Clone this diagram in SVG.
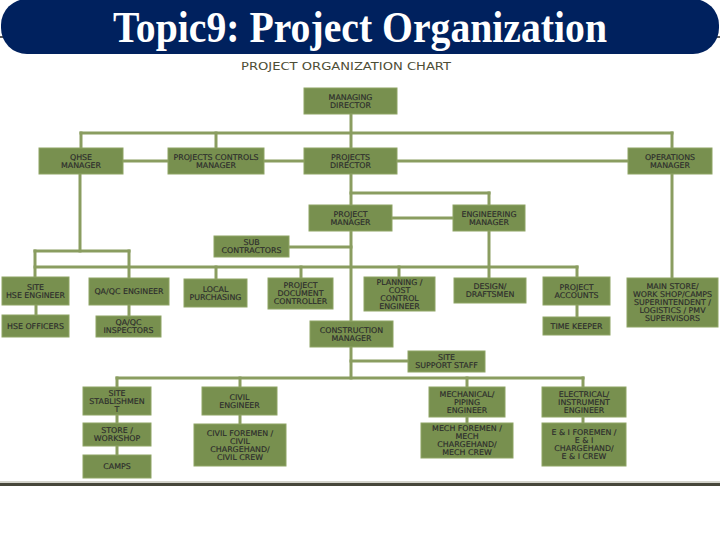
<svg xmlns="http://www.w3.org/2000/svg" width="720" height="540" viewBox="0 0 720 540">
<style>
.b{fill:#78904f;stroke:#8ea465;stroke-width:1}
.t{font-family:"DejaVu Sans",Verdana,sans-serif;font-size:7.9px;fill:#2c2c2c;stroke:#2c2c2c;stroke-width:0.15;text-anchor:middle}
.c line{stroke:#8a9d60;stroke-width:3;stroke-linecap:square}
</style>
<rect width="720" height="540" fill="#ffffff"/>
<g id="header">
<line x1="0" y1="37" x2="720" y2="37" stroke="#5a5a5a" stroke-width="2"/>
<rect x="1" y="-1" width="718" height="55" rx="26" fill="#00215e"/>
<text x="360" y="42" font-family="'Liberation Serif','Times New Roman',serif" font-weight="bold" font-size="45" fill="#ffffff" text-anchor="middle" textLength="494" lengthAdjust="spacingAndGlyphs">Topic9: Project Organization</text>
</g>
<text id="chart-title" x="346" y="70" font-family="'DejaVu Sans',Verdana,sans-serif" font-size="10.5" fill="#4d4d35" text-anchor="middle" textLength="210" lengthAdjust="spacingAndGlyphs">PROJECT ORGANIZATION CHART</text>
<g id="connectors" class="c">
<line x1="351" y1="114" x2="351" y2="148"/>
<line x1="81" y1="133" x2="672" y2="133"/>
<line x1="81" y1="133" x2="81" y2="148"/>
<line x1="216" y1="133" x2="216" y2="148"/>
<line x1="672" y1="133" x2="672" y2="148"/>
<line x1="123" y1="161" x2="628" y2="161"/>
<line x1="351" y1="174" x2="351" y2="205"/>
<line x1="351" y1="193" x2="489" y2="193"/>
<line x1="489" y1="193" x2="489" y2="205"/>
<line x1="392" y1="218" x2="453" y2="218"/>
<line x1="351" y1="231" x2="351" y2="321"/>
<line x1="289" y1="247" x2="351" y2="247"/>
<line x1="80" y1="174" x2="80" y2="251"/>
<line x1="35" y1="251" x2="129" y2="251"/>
<line x1="35" y1="251" x2="35" y2="277"/>
<line x1="129" y1="251" x2="129" y2="278"/>
<line x1="35" y1="267" x2="577" y2="267"/>
<line x1="216" y1="267" x2="216" y2="279"/>
<line x1="301" y1="267" x2="301" y2="278"/>
<line x1="399" y1="267" x2="399" y2="277"/>
<line x1="577" y1="267" x2="577" y2="277"/>
<line x1="489" y1="231" x2="489" y2="278"/>
<line x1="577" y1="305" x2="577" y2="317"/>
<line x1="36" y1="305" x2="36" y2="315"/>
<line x1="129" y1="305" x2="129" y2="316"/>
<line x1="672" y1="174" x2="672" y2="278"/>
<line x1="351" y1="347" x2="351" y2="378"/>
<line x1="351" y1="361" x2="408" y2="361"/>
<line x1="117" y1="378" x2="583" y2="378"/>
<line x1="117" y1="378" x2="117" y2="387"/>
<line x1="240" y1="378" x2="240" y2="387"/>
<line x1="467" y1="378" x2="467" y2="387"/>
<line x1="583" y1="378" x2="583" y2="387"/>
<line x1="117" y1="415" x2="117" y2="455"/>
<line x1="240" y1="415" x2="240" y2="424"/>
<line x1="467" y1="417" x2="467" y2="423"/>
<line x1="583" y1="417" x2="583" y2="423"/>
</g>
<g id="md"><rect class="b" x="304" y="88" width="93" height="26"/><text class="t"><tspan x="350.5" y="99.7">MANAGING</tspan><tspan x="350.5" y="107.7">DIRECTOR</tspan></text></g>
<g id="qhse"><rect class="b" x="39" y="148" width="84" height="26"/><text class="t"><tspan x="81" y="159.7">QHSE</tspan><tspan x="81" y="167.7">MANAGER</tspan></text></g>
<g id="pcm"><rect class="b" x="168" y="148" width="96" height="26"/><text class="t"><tspan x="216" y="159.7">PROJECTS CONTROLS</tspan><tspan x="216" y="167.7">MANAGER</tspan></text></g>
<g id="pd"><rect class="b" x="304" y="148" width="93" height="26"/><text class="t"><tspan x="350.5" y="159.7">PROJECTS</tspan><tspan x="350.5" y="167.7">DIRECTOR</tspan></text></g>
<g id="om"><rect class="b" x="628" y="148" width="84" height="26"/><text class="t"><tspan x="670" y="159.7">OPERATIONS</tspan><tspan x="670" y="167.7">MANAGER</tspan></text></g>
<g id="pm"><rect class="b" x="309" y="205" width="83" height="26"/><text class="t"><tspan x="350.5" y="216.7">PROJECT</tspan><tspan x="350.5" y="224.7">MANAGER</tspan></text></g>
<g id="em"><rect class="b" x="453" y="205" width="72" height="26"/><text class="t"><tspan x="489" y="216.7">ENGINEERING</tspan><tspan x="489" y="224.7">MANAGER</tspan></text></g>
<g id="sub"><rect class="b" x="214" y="236" width="75" height="21"/><text class="t"><tspan x="251.5" y="245.2">SUB</tspan><tspan x="251.5" y="253.2">CONTRACTORS</tspan></text></g>
<g id="site-hse"><rect class="b" x="2" y="277" width="67" height="28"/><text class="t"><tspan x="35.5" y="289.7">SITE</tspan><tspan x="35.5" y="297.7">HSE ENGINEER</tspan></text></g>
<g id="hse-officers"><rect class="b" x="2" y="315" width="67" height="22"/><text class="t" x="35.5" y="328.7">HSE OFFICERS</text></g>
<g id="qaqc-eng"><rect class="b" x="89" y="278" width="80" height="27"/><text class="t" x="129" y="294.2">QA/QC ENGINEER</text></g>
<g id="qaqc-insp"><rect class="b" x="96" y="316" width="65" height="21"/><text class="t"><tspan x="128.5" y="325.2">QA/QC</tspan><tspan x="128.5" y="333.2">INSPECTORS</tspan></text></g>
<g id="local"><rect class="b" x="184" y="279" width="63" height="28"/><text class="t"><tspan x="215.5" y="291.7">LOCAL</tspan><tspan x="215.5" y="299.7">PURCHASING</tspan></text></g>
<g id="pdc"><rect class="b" x="268" y="278" width="65" height="31"/><text class="t"><tspan x="300.5" y="288.2">PROJECT</tspan><tspan x="300.5" y="296.2">DOCUMENT</tspan><tspan x="300.5" y="304.2">CONTROLLER</tspan></text></g>
<g id="planning"><rect class="b" x="364" y="277" width="71" height="34"/><text class="t"><tspan x="399.5" y="284.7">PLANNING /</tspan><tspan x="399.5" y="292.7">COST</tspan><tspan x="399.5" y="300.7">CONTROL</tspan><tspan x="399.5" y="308.7">ENGINEER</tspan></text></g>
<g id="design"><rect class="b" x="454" y="278" width="72" height="25"/><text class="t"><tspan x="490" y="289.2">DESIGN/</tspan><tspan x="490" y="297.2">DRAFTSMEN</tspan></text></g>
<g id="accounts"><rect class="b" x="543" y="277" width="67" height="28"/><text class="t"><tspan x="576.5" y="289.7">PROJECT</tspan><tspan x="576.5" y="297.7">ACCOUNTS</tspan></text></g>
<g id="time-keeper"><rect class="b" x="543" y="317" width="67" height="18"/><text class="t" x="576.5" y="328.7">TIME KEEPER</text></g>
<g id="main-store"><rect class="b" x="627" y="278" width="91" height="49"/><text class="t"><tspan x="672.5" y="289.2">MAIN STORE/</tspan><tspan x="672.5" y="297.2">WORK SHOP/CAMPS</tspan><tspan x="672.5" y="305.2">SUPERINTENDENT /</tspan><tspan x="672.5" y="313.2">LOGISTICS / PMV</tspan><tspan x="672.5" y="321.2">SUPERVISORS</tspan></text></g>
<g id="cm"><rect class="b" x="310" y="321" width="83" height="26"/><text class="t"><tspan x="351.5" y="332.7">CONSTRUCTION</tspan><tspan x="351.5" y="340.7">MANAGER</tspan></text></g>
<g id="sss"><rect class="b" x="408" y="351" width="77" height="21"/><text class="t"><tspan x="446.5" y="360.2">SITE</tspan><tspan x="446.5" y="368.2">SUPPORT STAFF</tspan></text></g>
<g id="site-est"><rect class="b" x="83" y="387" width="68" height="28"/><text class="t"><tspan x="117" y="395.7">SITE</tspan><tspan x="117" y="403.7">STABLISHMEN</tspan><tspan x="117" y="411.7">T</tspan></text></g>
<g id="store"><rect class="b" x="83" y="423" width="68" height="23"/><text class="t"><tspan x="117" y="433.2">STORE /</tspan><tspan x="117" y="441.2">WORKSHOP</tspan></text></g>
<g id="camps"><rect class="b" x="83" y="455" width="68" height="23"/><text class="t" x="117" y="469.2">CAMPS</text></g>
<g id="civil"><rect class="b" x="202" y="387" width="75" height="28"/><text class="t"><tspan x="239.5" y="399.7">CIVIL</tspan><tspan x="239.5" y="407.7">ENGINEER</tspan></text></g>
<g id="civil-crew"><rect class="b" x="194" y="424" width="92" height="42"/><text class="t"><tspan x="240" y="435.7">CIVIL FOREMEN /</tspan><tspan x="240" y="443.7">CIVIL</tspan><tspan x="240" y="451.7">CHARGEHAND/</tspan><tspan x="240" y="459.7">CIVIL CREW</tspan></text></g>
<g id="mech"><rect class="b" x="429" y="387" width="76" height="30"/><text class="t"><tspan x="467" y="396.7">MECHANICAL/</tspan><tspan x="467" y="404.7">PIPING</tspan><tspan x="467" y="412.7">ENGINEER</tspan></text></g>
<g id="mech-crew"><rect class="b" x="421" y="423" width="92" height="35"/><text class="t"><tspan x="467" y="431.2">MECH FOREMEN /</tspan><tspan x="467" y="439.2">MECH</tspan><tspan x="467" y="447.2">CHARGEHAND/</tspan><tspan x="467" y="455.2">MECH CREW</tspan></text></g>
<g id="elec"><rect class="b" x="542" y="387" width="84" height="30"/><text class="t"><tspan x="584" y="396.7">ELECTRICAL/</tspan><tspan x="584" y="404.7">INSTRUMENT</tspan><tspan x="584" y="412.7">ENGINEER</tspan></text></g>
<g id="elec-crew"><rect class="b" x="542" y="423" width="84" height="43"/><text class="t"><tspan x="584" y="435.2">E &amp; I FOREMEN /</tspan><tspan x="584" y="443.2">E &amp; I</tspan><tspan x="584" y="451.2">CHARGEHAND/</tspan><tspan x="584" y="459.2">E &amp; I CREW</tspan></text></g>
<g id="footer-rule">
<line x1="0" y1="482" x2="720" y2="482" stroke="#a8a898" stroke-width="1"/>
<line x1="0" y1="484.5" x2="720" y2="484.5" stroke="#46463a" stroke-width="3"/>
</g>
</svg>
